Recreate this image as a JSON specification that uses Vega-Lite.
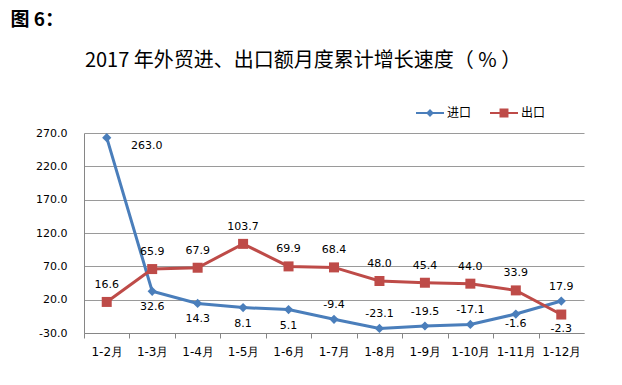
{
  "$schema": "https://vega.github.io/schema/vega-lite/v6.json",
  "padding": {"left": 10, "top": 11, "right": 5, "bottom": 5},
  "title": {"text": "图 6：", "anchor": "start", "font": "Noto Sans CJK SC", "fontSize": 19, "fontWeight": "bold", "color": "#000000", "dx": -25, "offset": 21},
  "resolve": {"legend": {"color": "independent"}},
  "vconcat": [
    {
      "title": {"text": "2017 年外贸进、出口额月度累计增长速度（ % ）", "anchor": "middle", "font": "Noto Sans CJK SC", "fontSize": 20, "fontWeight": "normal", "color": "#000000", "offset": 28, "dx": -31},
      "width": 500,
      "height": 200,
      "data": {"values": [
        {"month": "1-2月", "series": "进口", "value": 263.0},
        {"month": "1-3月", "series": "进口", "value": 32.6},
        {"month": "1-4月", "series": "进口", "value": 14.3},
        {"month": "1-5月", "series": "进口", "value": 8.1},
        {"month": "1-6月", "series": "进口", "value": 5.1},
        {"month": "1-7月", "series": "进口", "value": -9.4},
        {"month": "1-8月", "series": "进口", "value": -23.1},
        {"month": "1-9月", "series": "进口", "value": -19.5},
        {"month": "1-10月", "series": "进口", "value": -17.1},
        {"month": "1-11月", "series": "进口", "value": -1.6},
        {"month": "1-12月", "series": "进口", "value": 17.9},
        {"month": "1-2月", "series": "出口", "value": 16.6},
        {"month": "1-3月", "series": "出口", "value": 65.9},
        {"month": "1-4月", "series": "出口", "value": 67.9},
        {"month": "1-5月", "series": "出口", "value": 103.7},
        {"month": "1-6月", "series": "出口", "value": 69.9},
        {"month": "1-7月", "series": "出口", "value": 68.4},
        {"month": "1-8月", "series": "出口", "value": 48.0},
        {"month": "1-9月", "series": "出口", "value": 45.4},
        {"month": "1-10月", "series": "出口", "value": 44.0},
        {"month": "1-11月", "series": "出口", "value": 33.9},
        {"month": "1-12月", "series": "出口", "value": -2.3}
      ]},
      "encoding": {
        "x": {
          "field": "month", "type": "nominal",
          "sort": ["1-2月", "1-3月", "1-4月", "1-5月", "1-6月", "1-7月", "1-8月", "1-9月", "1-10月", "1-11月", "1-12月"],
          "scale": {"paddingInner": 0, "paddingOuter": 0},
          "axis": {"title": null, "labelAngle": 0, "labelFont": "DejaVu Sans", "labelFontSize": 12, "labelColor": "#000000", "domainColor": "#868686", "tickColor": "#868686", "tickSize": 5, "tickOffset": -22.727, "labelOffset": 22.727, "labelPadding": 8, "grid": false}
        },
        "y": {
          "field": "value", "type": "quantitative",
          "scale": {"domain": [-30, 270], "nice": false, "zero": false},
          "axis": {"title": null, "values": [-30, 20, 70, 120, 170, 220, 270], "format": ".1f", "labelFont": "DejaVu Sans", "labelFontSize": 11, "labelColor": "#000000", "ticks": false, "labelPadding": 17, "domainColor": "#868686", "grid": true, "gridColor": "#9a9a9a", "gridWidth": 1}
        }
      },
      "layer": [
        {
          "mark": {"type": "line", "strokeWidth": 3},
          "encoding": {
            "color": {
              "field": "series", "type": "nominal",
              "scale": {"domain": ["进口", "出口"], "range": ["#4A7EBB", "#BE4B48"]},
              "legend": {
                "orient": "none", "legendX": 332, "legendY": -34, "direction": "horizontal", "title": null,
                "symbolSize": 784, "symbolStrokeWidth": 0, "labelFont": "Noto Sans CJK SC", "labelFontSize": 12, "labelColor": "#000000",
                "labelOffset": 3, "columnPadding": 18, "padding": 0,
                "encode": {"symbols": {"update": {
                  "shape": {"signal": "datum.value === '进口' ? 'M-1,-0.075H1V0.075H-1Z M0,-0.28L0.28,0L0,0.28L-0.28,0Z' : 'M-1,-0.075H1V0.075H-1Z M-0.32,-0.32H0.32V0.32H-0.32Z'"},
                  "fill": {"signal": "datum.value === '进口' ? '#4A7EBB' : '#BE4B48'"},
                  "strokeWidth": {"value": 0},
                  "opacity": {"value": 1}
                }}}
              }
            }
          }
        },
        {
          "mark": {"type": "point", "filled": true, "opacity": 1},
          "encoding": {
            "color": {"field": "series", "type": "nominal", "legend": null},
            "shape": {"field": "series", "type": "nominal", "scale": {"domain": ["进口", "出口"], "range": ["diamond", "square"]}, "legend": null},
            "size": {"field": "series", "type": "nominal", "scale": {"domain": ["进口", "出口"], "range": [85, 100]}, "legend": null}
          }
        },
        {
          "transform": [{"filter": "datum.series === '进口' && indexof(['1-3月','1-4月','1-5月','1-6月'], datum.month) >= 0"}],
          "mark": {"type": "text", "font": "DejaVu Sans", "fontSize": 11, "color": "#000000", "dy": 16},
          "encoding": {"text": {"field": "value", "format": ".1f"}}
        },
        {
          "transform": [{"filter": "datum.series === '进口' && datum.month === '1-11月'"}],
          "mark": {"type": "text", "font": "DejaVu Sans", "fontSize": 11, "color": "#000000", "dy": 10},
          "encoding": {"text": {"field": "value", "format": ".1f"}}
        },
        {
          "transform": [{"filter": "datum.series === '进口' && indexof(['1-7月','1-8月','1-9月','1-10月','1-12月'], datum.month) >= 0"}],
          "mark": {"type": "text", "font": "DejaVu Sans", "fontSize": 11, "color": "#000000", "dy": -14},
          "encoding": {"text": {"field": "value", "format": ".1f"}}
        },
        {
          "transform": [{"filter": "datum.series === '进口' && datum.month === '1-2月'"}],
          "mark": {"type": "text", "font": "DejaVu Sans", "fontSize": 11, "color": "#000000", "dx": 40, "dy": 8},
          "encoding": {"text": {"field": "value", "format": ".1f"}}
        },
        {
          "transform": [{"filter": "datum.series === '出口' && datum.month !== '1-12月'"}],
          "mark": {"type": "text", "font": "DejaVu Sans", "fontSize": 11, "color": "#000000", "dy": -17},
          "encoding": {"text": {"field": "value", "format": ".1f"}}
        },
        {
          "transform": [{"filter": "datum.series === '出口' && datum.month === '1-12月'"}],
          "mark": {"type": "text", "font": "DejaVu Sans", "fontSize": 11, "color": "#000000", "dy": 14},
          "encoding": {"text": {"field": "value", "format": ".1f"}}
        }
      ]
    }
  ],
  "config": {
    "view": {"stroke": null},
    "background": "#ffffff",
    "locale": {"number": {"decimal": ".", "thousands": ",", "grouping": [3], "currency": ["", ""], "minus": "-"}}
  }
}
